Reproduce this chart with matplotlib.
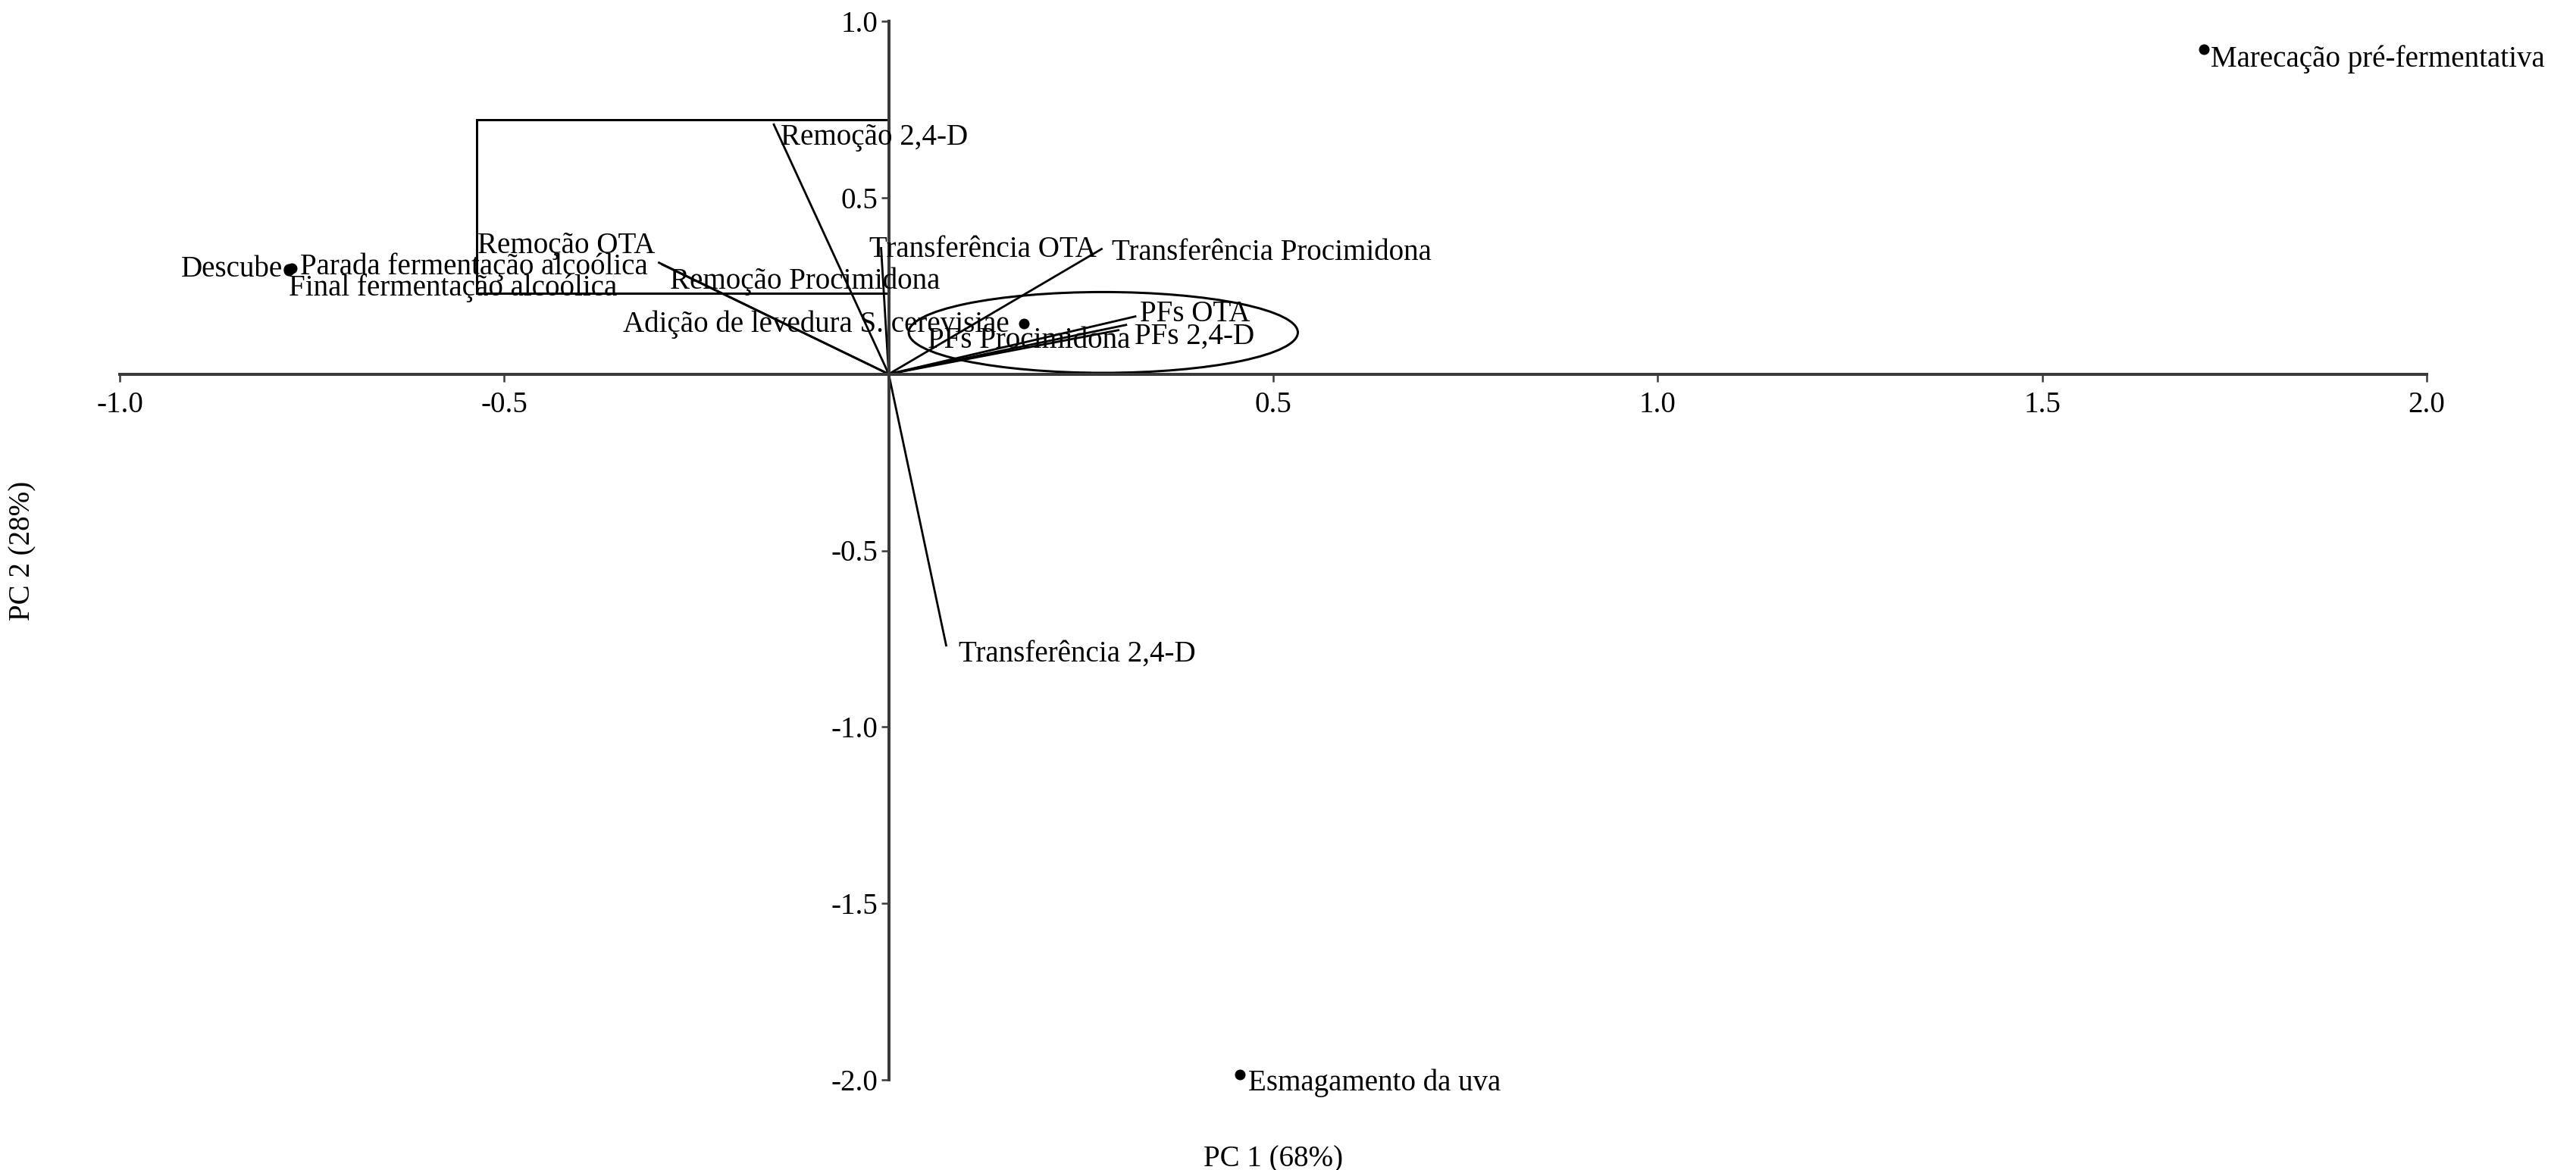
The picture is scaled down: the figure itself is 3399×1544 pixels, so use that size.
import matplotlib
matplotlib.use("Agg")
import matplotlib.pyplot as plt
from matplotlib.patches import Ellipse, Rectangle

plt.rcParams['font.family'] = ['Liberation Serif', 'DejaVu Serif']
plt.rcParams['axes.unicode_minus'] = False

# ---- data: sample scores (points) ----
sample_names = ["Marecação pré-fermentativa", "Esmagamento da uva", "Descube",
                "Parada fermentação alcoólica", "Final fermentação alcoólica",
                "Adição de levedura S. cerevisiae"]
sample_pc1 = [1.710, 0.457, -0.780, -0.776, -0.780, 0.176]
sample_pc2 = [0.920, -1.985, 0.297, 0.300, 0.293, 0.144]

# ---- data: variable loadings (vectors from origin) ----
var_names = ["Remoção 2,4-D", "Remoção OTA", "Remoção Procimidona",
             "Transferência OTA", "Transferência Procimidona", "Transferência 2,4-D",
             "PFs OTA", "PFs 2,4-D", "PFs Procimidona"]
var_pc1 = [-0.150, -0.300, -0.296, -0.010, 0.278, 0.075, 0.322, 0.310, 0.300]
var_pc2 = [0.710, 0.317, 0.312, 0.360, 0.356, -0.772, 0.164, 0.140, 0.125]

x_ticks = [-1.0, -0.5, 0.5, 1.0, 1.5, 2.0]
y_ticks = [1.0, 0.5, -0.5, -1.0, -1.5, -2.0]
x_label = "PC 1 (68%)"
y_label = "PC 2 (28%)"

# ---- highlight shapes ----
ell_center = (0.279, 0.118)
ell_w, ell_h = 0.506, 0.229
rect_x0, rect_y0, rect_x1, rect_y1 = -0.536, 0.228, 0.0, 0.720

# label styles: (dx, dy in points, ha)
sample_lab = [(9, -13, 'left'), (11, -11, 'left'), (-8, 0, 'right'),
              (11, 2, 'left'), (0, -23, 'left'), (-19, -2, 'right')]
var_lab = [(10, -18, 'left'), (-238, 22, 'left'), (12, -23, 'left'),
           (-16, -3, 'left'), (12, -6, 'left'), (16, -10, 'left'),
           (5, 3, 'left'), (10, -16, 'left'), (14, -14, 'right')]

DPI = 72
fig = plt.figure(figsize=(3399 / DPI, 1544 / DPI), dpi=DPI)
ax = fig.add_axes([158 / 3399, 1 - 1425 / 1544, 3044 / 3399, 1397 / 1544])
ax.set_xlim(-1.0, 2.0)
ax.set_ylim(-2.0, 1.0)

FS = 39
axcol = '#3a3a3a'
for s in ['top', 'right']:
    ax.spines[s].set_visible(False)
for s in ['left', 'bottom']:
    ax.spines[s].set_position(('data', 0))
    ax.spines[s].set_linewidth(4)
    ax.spines[s].set_color(axcol)

ax.set_xticks(x_ticks)
ax.set_yticks(y_ticks)
ax.set_xticklabels([f"{v:.1f}" for v in x_ticks])
ax.set_yticklabels([f"{v:.1f}" for v in y_ticks])
ax.tick_params(axis='x', direction='out', length=10, width=2.5, color=axcol, pad=12, labelsize=FS)
ax.tick_params(axis='y', direction='out', length=10, width=2.5, color=axcol, pad=4, labelsize=FS)

# vectors
for name, x, y, (dx, dy, ha) in zip(var_names, var_pc1, var_pc2, var_lab):
    ax.plot([0, x], [0, y], color='black', lw=2.8, solid_capstyle='butt')
    ax.annotate(name, xy=(x, y), xytext=(dx, dy), textcoords='offset points',
                ha=ha, va='center', fontsize=FS, color='black')

# samples
ax.plot(sample_pc1, sample_pc2, 'o', color='black', markersize=13, linestyle='none')
for name, x, y, (dx, dy, ha) in zip(sample_names, sample_pc1, sample_pc2, sample_lab):
    ax.annotate(name, xy=(x, y), xytext=(dx, dy), textcoords='offset points',
                ha=ha, va='center', fontsize=FS, color='black')

ax.add_patch(Ellipse(ell_center, ell_w, ell_h, fill=False, edgecolor='black', lw=3))
ax.add_patch(Rectangle((rect_x0, rect_y0), rect_x1 - rect_x0, rect_y1 - rect_y0,
                       fill=False, edgecolor='black', lw=3))

ax.set_xlabel(x_label, fontsize=FS)
ax.set_ylabel(y_label, fontsize=FS)
ax.xaxis.set_label_coords(0.5, -0.062)
ax.yaxis.set_label_coords(-0.036, 0.5)

fig.savefig("out.png", dpi=DPI, facecolor='white')
